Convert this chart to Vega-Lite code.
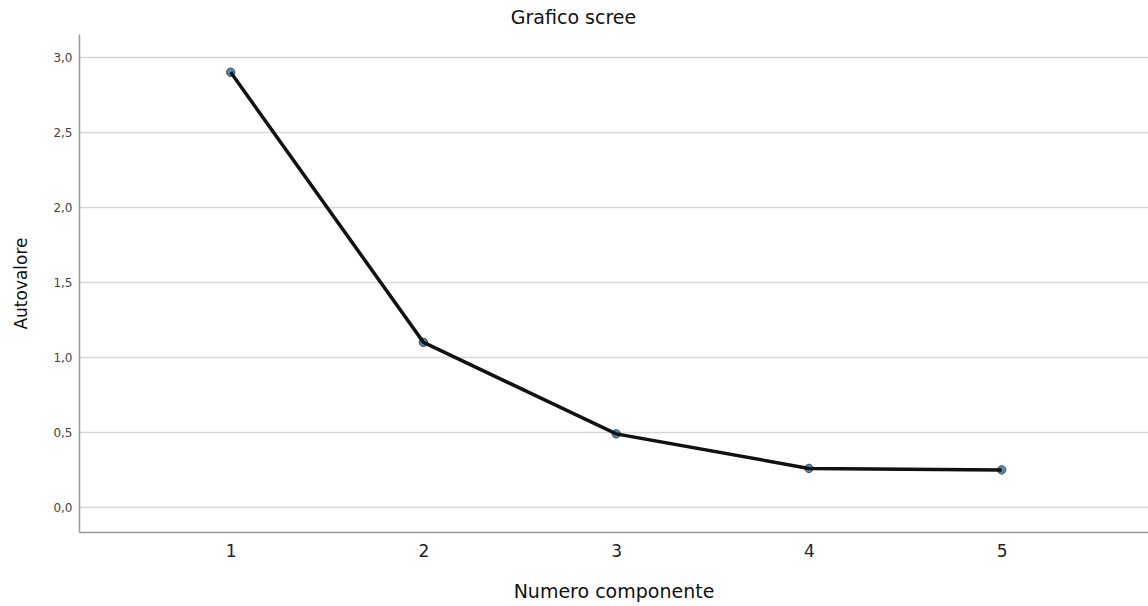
{
  "$schema": "https://vega.github.io/schema/vega-lite/v6.json",
  "autosize": {"type": "none"},
  "padding": {"left": 79, "top": 34, "right": 0, "bottom": 74},
  "width": 1069,
  "height": 498,
  "background": "white",
  "title": {
    "text": "Grafico scree",
    "font": "DejaVu Sans",
    "fontSize": 19,
    "fontWeight": "normal",
    "color": "#111",
    "anchor": "middle",
    "dx": -40,
    "offset": 6
  },
  "data": {
    "values": [
      {"componente": 1, "autovalore": 2.90},
      {"componente": 2, "autovalore": 1.10},
      {"componente": 3, "autovalore": 0.49},
      {"componente": 4, "autovalore": 0.26},
      {"componente": 5, "autovalore": 0.25}
    ]
  },
  "config": {
    "view": {"stroke": null},
    "axis": {"labelFont": "DejaVu Sans", "titleFont": "DejaVu Sans", "titleFontWeight": "normal"}
  },
  "encoding": {
    "x": {
      "field": "componente",
      "type": "quantitative",
      "scale": {"domain": [0.213, 5.759], "nice": false, "zero": false},
      "axis": {
        "title": "Numero componente",
        "values": [1, 2, 3, 4, 5],
        "format": "d",
        "grid": false,
        "ticks": false,
        "domainColor": "#999",
        "domainWidth": 1.5,
        "labelFontSize": 17,
        "labelColor": "#222",
        "labelPadding": 11,
        "titleFontSize": 19,
        "titleColor": "#111",
        "titlePadding": 23
      }
    },
    "y": {
      "field": "autovalore",
      "type": "quantitative",
      "scale": {"domain": [-0.164, 3.155], "nice": false, "zero": false},
      "axis": {
        "title": "Autovalore",
        "values": [0, 0.5, 1, 1.5, 2, 2.5, 3],
        "format": ".1f",
        "labelExpr": "replace(datum.label, '.', ',')",
        "grid": true,
        "gridColor": "#d6d6d6",
        "gridWidth": 1.5,
        "ticks": false,
        "domainColor": "#999",
        "domainWidth": 1.5,
        "labelFontSize": 12,
        "labelColor": "#444",
        "labelPadding": 7,
        "titleFontSize": 17,
        "titleColor": "#111",
        "titlePadding": 22
      }
    }
  },
  "layer": [
    {
      "mark": {"type": "point", "filled": true, "shape": "circle", "size": 70, "color": "#5a8ab0", "stroke": "#2d4a60", "strokeWidth": 1, "opacity": 1}
    },
    {
      "mark": {"type": "line", "color": "#111", "strokeWidth": 3.5}
    }
  ]
}
